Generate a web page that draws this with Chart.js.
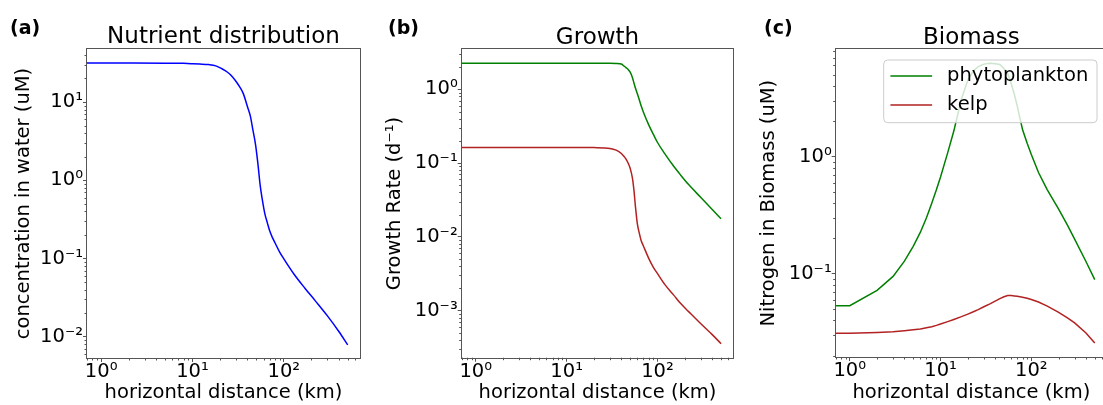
<!DOCTYPE html>
<html><head><meta charset="utf-8">
<script src="https://cdn.jsdelivr.net/npm/chart.js@4.4.1/dist/chart.umd.min.js"></script>
<style>
html,body{margin:0;padding:0;background:#fff}
body{width:1103px;height:405px;overflow:hidden;position:relative}
.panel{position:absolute;top:0;height:405px}
.tag{position:absolute;top:18px;font:bold 19px/19px "DejaVu Sans";color:#000;white-space:nowrap}
</style></head>
<body>
<div class="panel" style="left:0;width:370px"><canvas id="chartA"></canvas></div>
<div class="panel" style="left:370px;width:370px"><canvas id="chartB"></canvas></div>
<div class="panel" style="left:740px;width:377px"><canvas id="chartC"></canvas></div>
<div class="tag" style="left:10px">(a)</div>
<div class="tag" style="left:388px">(b)</div>
<div class="tag" style="left:764px">(c)</div>
<script>
// ---------- data ----------
const xLabel = 'horizontal distance (km)';
const xTickValues = [1, 10, 100];
const xTickLabels = ['10⁰', '10¹', '10²'];
const seriesNames = ['phytoplankton', 'kelp'];

// (a) Nutrient distribution
const aTitle = 'Nutrient distribution';
const aYLabel = 'concentration in water (uM)';
const aYTickValues = [0.01, 0.1, 1, 10];
const aYTickLabels = ['10⁻²', '10⁻¹', '10⁰', '10¹'];
const aDistance = [0.1, 1, 2, 5, 8, 10, 12, 15, 18, 21, 24, 27, 30, 33, 36, 40, 43, 46, 49, 52, 55, 58, 62, 66, 70, 75, 80, 90, 100, 130, 170, 220, 300, 400, 500];
const aNutrient = [31.5, 31.5, 31.5, 31.4, 31.2, 30.9, 30.6, 30.1, 29.0, 26.6, 24.2, 21.4, 18.3, 15.5, 12.8, 8.7, 6.6, 4.3, 2.86, 1.63, 0.873, 0.574, 0.372, 0.286, 0.226, 0.185, 0.159, 0.121, 0.099, 0.0625, 0.0418, 0.029, 0.0185, 0.0117, 0.0079];

// (b) Growth
const bTitle = 'Growth';
const bYLabel = 'Growth Rate (d⁻¹)';
const bYTickValues = [0.001, 0.01, 0.1, 1];
const bYTickLabels = ['10⁻³', '10⁻²', '10⁻¹', '10⁰'];
const bDistance = [0.1, 1, 5, 10, 20, 30, 35, 40, 43, 45, 48, 50, 53, 55, 57, 60, 63, 66, 70, 80, 90, 100, 120, 150, 180, 220, 300, 400, 500];
const bPhyto = [2.25, 2.25, 2.25, 2.25, 2.25, 2.25, 2.24, 2.2, 2.06, 1.97, 1.83, 1.71, 1.44, 1.22, 1.05, 0.87, 0.72, 0.60, 0.49, 0.33, 0.245, 0.19, 0.134, 0.091, 0.0685, 0.051, 0.0341, 0.0235, 0.0175];
const bKelp = [0.163, 0.163, 0.163, 0.163, 0.162, 0.158, 0.150, 0.135, 0.122, 0.113, 0.097, 0.085, 0.062, 0.043, 0.0265, 0.0150, 0.0112, 0.0089, 0.00748, 0.0051, 0.00386, 0.00316, 0.00226, 0.00163, 0.00124, 0.000966, 0.00066, 0.000471, 0.000355];

// (c) Biomass
const cTitle = 'Biomass';
const cYLabel = 'Nitrogen in Biomass (uM)';
const cYTickValues = [0.1, 1];
const cYTickLabels = ['10⁻¹', '10⁰'];
const cDistance = [0.1, 1, 2, 3, 4, 5, 6, 7, 8, 9, 10, 12, 14, 17, 20, 23, 26, 30, 35, 40, 45, 50, 55, 60, 65, 70, 80, 90, 100, 120, 150, 200, 250, 300, 400, 500];
const cPhyto = [0.0533, 0.0533, 0.0721, 0.0948, 0.128, 0.171, 0.226, 0.30, 0.40, 0.52, 0.67, 1.08, 1.65, 3.1, 4.5, 5.4, 5.85, 6.15, 6.25, 6.2, 6.1, 5.65, 5.1, 4.2, 3.4, 2.7, 1.7, 1.3, 1.04, 0.73, 0.52, 0.355, 0.26, 0.197, 0.127, 0.0889];
const cKelp = [0.0308, 0.0310, 0.0315, 0.0320, 0.0326, 0.0332, 0.0338, 0.0345, 0.0352, 0.0362, 0.0372, 0.0390, 0.0407, 0.0430, 0.0452, 0.0473, 0.0494, 0.0522, 0.0553, 0.0584, 0.0612, 0.0636, 0.0650, 0.0650, 0.0646, 0.0641, 0.0630, 0.0617, 0.0603, 0.0573, 0.0528, 0.0468, 0.0420, 0.0380, 0.0312, 0.0256];

// ---------- rendering ----------
const FONT = 'DejaVu Sans';
Chart.defaults.font.family = FONT;
Chart.defaults.color = '#000';
const AXIS = '#555';

function pts(xs, ys) { return xs.map((x, i) => ({ x: x, y: ys[i] })); }

const framePlugin = {
  id: 'frameMinor',
  afterDraw(chart) {
    const { ctx, chartArea: a, scales: { x, y } } = chart;
    ctx.save();
    ctx.strokeStyle = AXIS;
    ctx.lineWidth = 1;
    const minor = (scale, cb) => {
      const k0 = Math.floor(Math.log10(scale.min)), k1 = Math.ceil(Math.log10(scale.max));
      for (let k = k0; k <= k1; k++) for (let m = 2; m <= 9; m++) {
        const v = m * Math.pow(10, k);
        if (v > scale.min && v < scale.max) cb(scale.getPixelForValue(v));
      }
    };
    ctx.beginPath();
    minor(x, p => { const px = Math.round(p) + 0.5; ctx.moveTo(px, a.bottom); ctx.lineTo(px, a.bottom + 2.5); });
    minor(y, p => { const py = Math.round(p) + 0.5; ctx.moveTo(a.left, py); ctx.lineTo(a.left - 2.5, py); });
    ctx.stroke();
    const L = Math.round(a.left), T = Math.round(a.top), R = Math.round(a.right), B = Math.round(a.bottom);
    ctx.strokeRect(L - 0.5, T - 0.5, R - L + 1, B - T + 1);
    ctx.restore();
  }
};

const legendPlugin = {
  id: 'insideLegend',
  afterDraw(chart) {
    const { ctx, chartArea: a } = chart;
    const fs = 19.5;
    ctx.save();
    ctx.font = fs + 'px "' + FONT + '"';
    const items = chart.data.datasets;
    const textW = Math.max(...items.map(d => ctx.measureText(d.label).width));
    const padL = 6.7, handle = 41.7, gap = 15, padR = 8.7, rowH = 29;
    const w = padL + handle + gap + textW + padR;
    const right = a.right - 10, left = right - w, top = a.top + 10.7, h = 62.7, r = 4;
    ctx.beginPath();
    ctx.moveTo(left + r, top);
    ctx.lineTo(left + w - r, top); ctx.arcTo(left + w, top, left + w, top + r, r);
    ctx.lineTo(left + w, top + h - r); ctx.arcTo(left + w, top + h, left + w - r, top + h, r);
    ctx.lineTo(left + r, top + h); ctx.arcTo(left, top + h, left, top + h - r, r);
    ctx.lineTo(left, top + r); ctx.arcTo(left, top, left + r, top, r);
    ctx.closePath();
    ctx.fillStyle = 'rgba(255,255,255,0.8)';
    ctx.fill();
    ctx.strokeStyle = '#cccccc';
    ctx.lineWidth = 1;
    ctx.stroke();
    items.forEach((d, i) => {
      const yy = top + 16 + i * rowH;
      ctx.strokeStyle = d.borderColor;
      ctx.lineWidth = 1.5;
      ctx.beginPath();
      ctx.moveTo(left + padL, yy); ctx.lineTo(left + padL + handle, yy);
      ctx.stroke();
      ctx.fillStyle = '#000';
      ctx.textBaseline = 'middle';
      ctx.textAlign = 'left';
      ctx.fillText(d.label, left + padL + handle + gap, yy);
    });
    ctx.restore();
  }
};

function makeChart(id, cfg) {
  const tickFont = { family: FONT, size: 19.5, lineHeight: 1 };
  const grid = { drawOnChartArea: false, drawTicks: true, tickLength: 4, tickColor: AXIS, tickWidth: 1 };
  return new Chart(document.getElementById(id), {
    type: 'line',
    data: { datasets: cfg.datasets },
    options: {
      responsive: true, maintainAspectRatio: false, animation: false, events: [],
      layout: { padding: { left: 0, right: cfg.padRight, top: 0, bottom: 0 } },
      elements: { point: { radius: 0 }, line: { borderWidth: 1.5 } },
      plugins: {
        legend: { display: false },
        tooltip: { enabled: false },
        title: {
          display: true, text: cfg.title, fullSize: false, color: '#000',
          font: { family: FONT, size: 23, weight: 'normal', lineHeight: 1 },
          padding: { top: cfg.titleTop, bottom: 0 }
        }
      },
      scales: {
        x: {
          type: 'logarithmic', position: 'bottom', min: 0.733, max: 682,
          afterBuildTicks: s => { s.ticks = xTickValues.map(v => ({ value: v })); },
          afterFit: s => { s.height = cfg.xAxisH; },
          ticks: { callback: (v, i) => xTickLabels[i], autoSkip: false, maxRotation: 0, minRotation: 0, padding: 0, color: '#000', font: tickFont },
          grid: grid,
          border: { display: false },
          title: { display: true, text: xLabel, color: '#000', font: { family: FONT, size: 19.5 }, padding: { top: 0, bottom: 0.6 } }
        },
        y: {
          type: 'logarithmic', position: 'left', min: cfg.yMin, max: cfg.yMax,
          afterBuildTicks: s => { s.ticks = cfg.yTickValues.map(v => ({ value: v })); },
          afterFit: s => { s.width = cfg.yAxisW; },
          ticks: { callback: (v, i) => cfg.yTickLabels[i], autoSkip: false, padding: 0, color: '#000', font: tickFont },
          grid: grid,
          border: { display: false },
          title: { display: true, text: cfg.yLabel, color: '#000', font: { family: FONT, size: 19.5 }, padding: { top: cfg.yTitlePad, bottom: 0 } }
        }
      }
    },
    plugins: cfg.legend ? [framePlugin, legendPlugin] : [framePlugin]
  });
}

makeChart('chartA', {
  title: aTitle, yLabel: aYLabel, yTickValues: aYTickValues, yTickLabels: aYTickLabels,
  yMin: 0.00536, yMax: 47.6, padRight: 10, titleTop: 26, xAxisH: 47, yAxisW: 87, yTitlePad: 12.3,
  datasets: [{ label: 'nutrient', data: pts(aDistance, aNutrient), borderColor: '#0000ff', cubicInterpolationMode: 'monotone', fill: false }]
});

makeChart('chartB', {
  title: bTitle, yLabel: bYLabel, yTickValues: bYTickValues, yTickLabels: bYTickLabels,
  yMin: 0.000229, yMax: 3.49, padRight: 6.7, titleTop: 26.3, xAxisH: 47.3, yAxisW: 91.7, yTitlePad: 13.3,
  datasets: [
    { label: seriesNames[0], data: pts(bDistance, bPhyto), borderColor: '#008000', cubicInterpolationMode: 'monotone', fill: false },
    { label: seriesNames[1], data: pts(bDistance, bKelp), borderColor: '#b22222', cubicInterpolationMode: 'monotone', fill: false }
  ]
});

makeChart('chartC', {
  title: cTitle, yLabel: cYLabel, yTickValues: cYTickValues, yTickLabels: cYTickLabels,
  yMin: 0.01945, yMax: 8.23, padRight: 10, titleTop: 26.3, xAxisH: 48, yAxisW: 95.7, yTitlePad: 17.3, legend: true,
  datasets: [
    { label: seriesNames[0], data: pts(cDistance, cPhyto), borderColor: '#008000', tension: 0, fill: false },
    { label: seriesNames[1], data: pts(cDistance, cKelp), borderColor: '#b22222', tension: 0, fill: false }
  ]
});
</script>
</body></html>
